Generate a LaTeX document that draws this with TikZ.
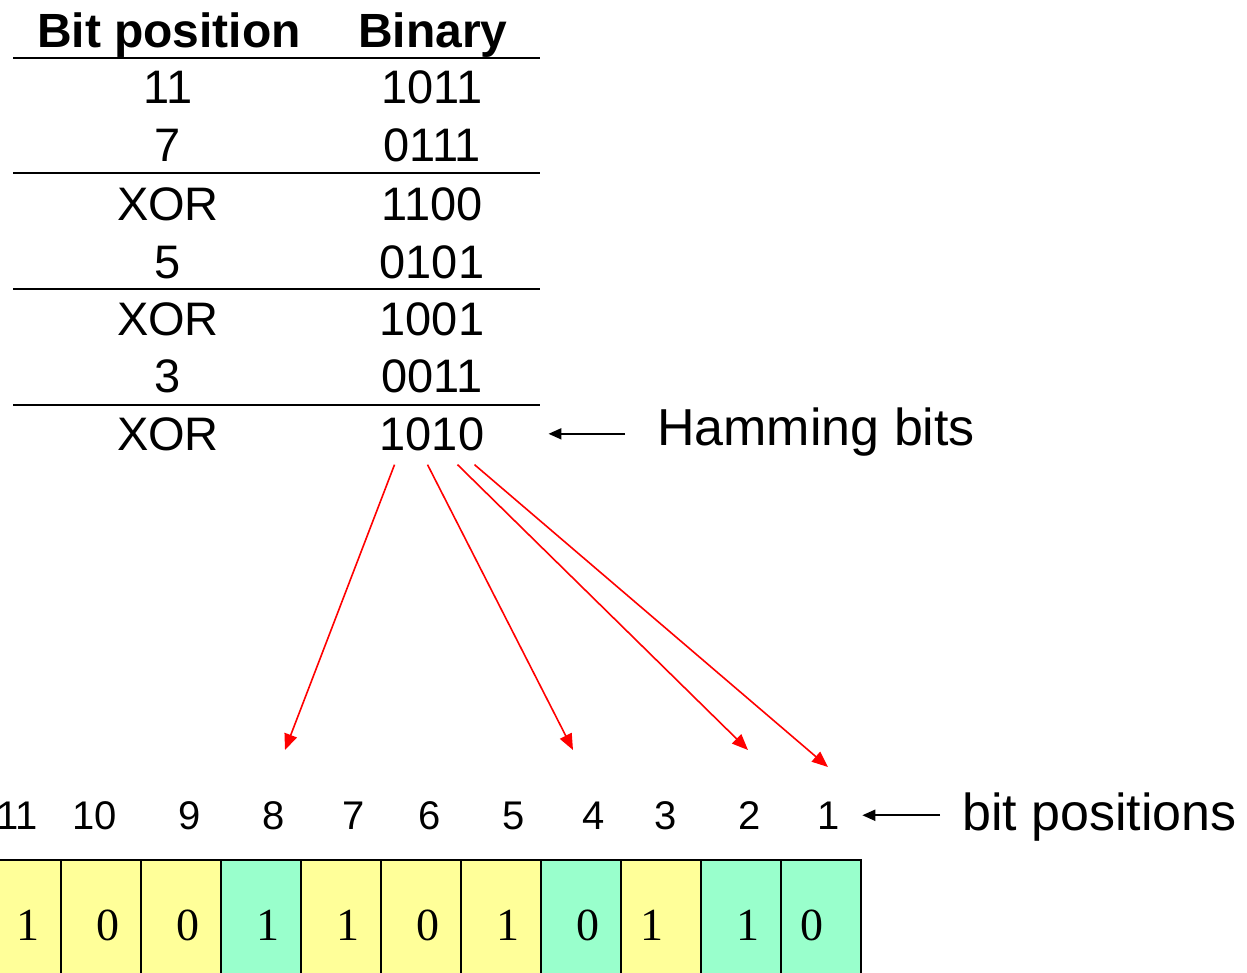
\documentclass[tikz,border=0pt]{standalone}
\usepackage{fontspec}
\setmainfont{Liberation Sans}
\newfontfamily\cellfont{Liberation Serif}
\usetikzlibrary{arrows.meta}

\definecolor{databit}{HTML}{FFFF99}
\definecolor{checkbit}{HTML}{99FFCC}
\definecolor{linkred}{HTML}{FF0000}

\tikzset{
  entry/.style={anchor=base, inner sep=0pt, font=\fontsize{47}{50}\selectfont},
  head/.style={entry, font=\fontsize{48}{50}\selectfont\bfseries},
  poslabel/.style={anchor=base, inner sep=0pt, font=\fontsize{40}{44}\selectfont},
  note/.style={anchor=base west, inner sep=0pt, font=\fontsize{52}{56}\selectfont},
  bitval/.style={anchor=base, inner sep=0pt, font=\fontsize{46}{50}\selectfont\cellfont},
  rule/.style={line width=2pt},
  cellbox/.style={line width=2pt},
  pointer/.style={line width=2pt, -{Triangle[length=13pt,width=11pt]}},
  link/.style={linkred, line width=1.6pt, -{Triangle[length=16pt,width=13pt]}}
}

\begin{document}
\begin{tikzpicture}[x=1pt, y=-1pt]
    \useasboundingbox (0,0) rectangle (1247,972);

    % Table header
    \node[head] (hpos) at (169, 47) {Bit position};
    \node[head] (hbin) at (433, 47) {Binary};
    \draw[rule] (13, 58) -- (540, 58);

    % 11 xor 7
    \node[entry] (pos11) at (168, 103) {11};
    \node[entry] (bin11) at (432, 103) {1011};
    \node[entry] (pos7) at (168, 161) {7};
    \node[entry] (bin7) at (432, 161) {0111};
    \draw[rule] (13, 173) -- (540, 173);

    % then 5
    \node[entry] (xor1) at (168, 220) {XOR};
    \node[entry] (res1) at (432, 220) {1100};
    \node[entry] (pos5) at (168, 278) {5};
    \node[entry] (bin5) at (432, 278) {0101};
    \draw[rule] (13, 289) -- (540, 289);

    % then 3
    \node[entry] (xor2) at (168, 335) {XOR};
    \node[entry] (res2) at (432, 335) {1001};
    \node[entry] (pos3) at (168, 392) {3};
    \node[entry] (bin3) at (432, 392) {0011};
    \draw[rule] (13, 405) -- (540, 405);

    % Result
    \node[entry] (xor3) at (168, 450) {XOR};
    \node[entry] (ham) at (432, 450) {1010};
    \node[note] (hamnote) at (657, 445) {Hamming bits};
    \draw[pointer] ([xshift=-32pt]ham.east -| hamnote.west) -- ([xshift=64pt]ham.east);

    % Where each check bit goes
    \coordinate (to8) at (285, 750);
    \coordinate (to4) at (573, 750);
    \coordinate (to2) at (748, 750);
    \coordinate (to1) at (828, 767);
    \draw[link] ([xshift=15pt, yshift=-14pt]ham.south west) -- (to8);
    \draw[link] ([xshift=48pt, yshift=-14pt]ham.south west) -- (to4);
    \draw[link] ([xshift=78pt, yshift=-14pt]ham.south west) -- (to2);
    \draw[link] ([xshift=95pt, yshift=-14pt]ham.south west) -- (to1);

    % Bit positions
    \node[poslabel] (p11) at (17, 829) {11};
    \node[poslabel] (p10) at (95, 829) {10};
    \node[poslabel] (p9) at (190, 829) {9};
    \node[poslabel] (p8) at (274, 829) {8};
    \node[poslabel] (p7) at (354, 829) {7};
    \node[poslabel] (p6) at (430, 829) {6};
    \node[poslabel] (p5) at (514, 829) {5};
    \node[poslabel] (p4) at (594, 829) {4};
    \node[poslabel] (p3) at (666, 829) {3};
    \node[poslabel] (p2) at (750, 829) {2};
    \node[poslabel] (p1) at (829, 829) {1};
    \node[note] (posnote) at (962, 830) {bit positions};
    \draw[pointer] ([xshift=-22pt]p1.east -| posnote.west) -- ([xshift=22pt]p1.east);

    % Code word cells
    \filldraw[cellbox, fill=databit] (-19, 860) rectangle (61, 990);
    \filldraw[cellbox, fill=databit] (61, 860) rectangle (141, 990);
    \filldraw[cellbox, fill=databit] (141, 860) rectangle (221, 990);
    \filldraw[cellbox, fill=checkbit] (221, 860) rectangle (301, 990);
    \filldraw[cellbox, fill=databit] (301, 860) rectangle (381, 990);
    \filldraw[cellbox, fill=databit] (381, 860) rectangle (461, 990);
    \filldraw[cellbox, fill=databit] (461, 860) rectangle (541, 990);
    \filldraw[cellbox, fill=checkbit] (541, 860) rectangle (621, 990);
    \filldraw[cellbox, fill=databit] (621, 860) rectangle (701, 990);
    \filldraw[cellbox, fill=checkbit] (701, 860) rectangle (781, 990);
    \filldraw[cellbox, fill=checkbit] (781, 860) rectangle (861, 990);

    % Cell values
    \node[bitval] (b11) at (28, 940) {1};
    \node[bitval] (b10) at (108, 940) {0};
    \node[bitval] (b9) at (188, 940) {0};
    \node[bitval] (b8) at (268, 940) {1};
    \node[bitval] (b7) at (348, 940) {1};
    \node[bitval] (b6) at (428, 940) {0};
    \node[bitval] (b5) at (508, 940) {1};
    \node[bitval] (b4) at (588, 940) {0};
    \node[bitval] (b3) at (652, 940) {1};
    \node[bitval] (b2) at (748, 940) {1};
    \node[bitval] (b1) at (812, 940) {0};
\end{tikzpicture}
\end{document}
